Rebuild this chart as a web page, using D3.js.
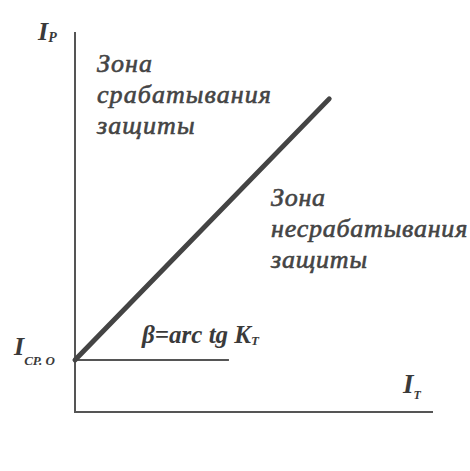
<!DOCTYPE html>
<html><head><meta charset="utf-8">
<script src="https://cdn.jsdelivr.net/npm/d3@7"></script>
<style>body{margin:0;background:#fff}</style>
</head><body>
<svg id="c" width="470" height="471"></svg>
<script>
// Data (abstract units)
const threshold = 1.37;                 // I_CP.O
const characteristic = [[0, 1.37], [7.1, 8.24]]; // I_P vs I_T
const baseline = [[0, 1.37], [4.3, 1.37]];
const axisMax = [10, 10];
const zoneTrip = ["Зона", "срабатывания", "защиты"];
const zoneNoTrip = ["Зона", "несрабатывания", "защиты"];

const svg = d3.select("#c");
const x = d3.scaleLinear().domain([0, axisMax[0]]).range([75, 433]);
const y = d3.scaleLinear().domain([0, axisMax[1]]).range([412, 32]);
const line = d3.line().x(d => x(d[0])).y(d => y(d[1]));

// axes
svg.append("path").attr("d", line([[0, axisMax[1]], [0, 0], [axisMax[0], 0]]))
  .attr("fill", "none").attr("stroke", "#555").attr("stroke-width", 2);
svg.append("path").attr("d", line(baseline))
  .attr("fill", "none").attr("stroke", "#555").attr("stroke-width", 2);
svg.append("path").attr("d", line(characteristic))
  .attr("fill", "none").attr("stroke", "#444").attr("stroke-width", 5).attr("stroke-linecap", "round");

const serif = "'Liberation Serif', 'Times New Roman', serif";
function label(xp, yp, main, sub, size, subSize, subDy) {
  const t = svg.append("text").attr("x", xp).attr("y", yp)
    .attr("font-family", serif).attr("font-style", "italic").attr("font-weight", "bold")
    .attr("fill", "#3a3a3a").attr("font-size", size);
  t.append("tspan").text(main);
  t.append("tspan").attr("font-size", subSize).attr("dy", subDy).text(sub);
}
label(38, 40, "I", "P", 26, 14, 2);
label(14, 355, "I", "CP. O", 26, 13, 10);
label(403, 393, "I", "T", 27, 12, 6);
label(142, 343, "β=arc tg K", "T", 25, 13, 2);

function zone(xp, yp, lines, widest, target) {
  const t = svg.append("text").attr("font-family", serif)
    .attr("font-style", "italic").attr("fill", "#444").attr("stroke", "#444")
    .attr("stroke-width", 0.6).attr("font-size", 26);
  const spans = lines.map((s, i) => t.append("tspan").attr("x", xp).attr("y", yp + i * 31).text(s));
  const w = spans[widest].node().getComputedTextLength();
  const n = lines[widest].length;
  t.attr("letter-spacing", Math.max(0, (target - w) / n));
}
zone(97, 72, zoneTrip, 1, 175);
zone(271, 206, zoneNoTrip, 1, 197);
</script>
</body></html>
